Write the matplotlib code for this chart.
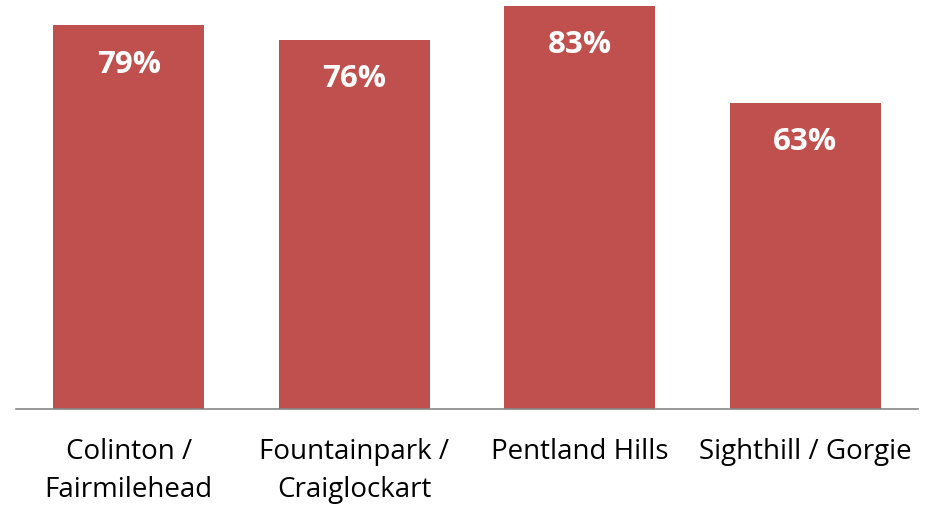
import matplotlib.pyplot as plt

# Data
areas = ["Colinton /\nFairmilehead", "Fountainpark /\nCraiglockart", "Pentland Hills", "Sighthill / Gorgie"]
values = [79, 76, 83, 63]

bar_color = "#C0504D"

fig = plt.figure(figsize=(9.3, 5.08), dpi=100)
ax = fig.add_axes([16 / 930, 1 - 409 / 508, 902 / 930, 409 / 508])

x = range(len(areas))
ax.bar(x, values, width=0.67, color=bar_color)

for i, v in enumerate(values):
    ax.text(i, v - 8.1, f"{v}%", ha="center", va="center", color="white",
            fontsize=22.5, fontweight="bold", family="Open Sans")

ax.set_xlim(-0.5, len(areas) - 0.5)
ax.set_ylim(0, 84.2)
ax.set_xticks(list(x))
ax.set_xticklabels(areas, fontsize=20, family="Open Sans", linespacing=1.45)
ax.tick_params(axis="x", length=0, pad=21)
ax.set_yticks([])

for side in ["top", "right", "left"]:
    ax.spines[side].set_visible(False)
ax.spines["bottom"].set_color("#868686")
ax.spines["bottom"].set_linewidth(1.2)

fig.savefig("out.png", dpi=100)
